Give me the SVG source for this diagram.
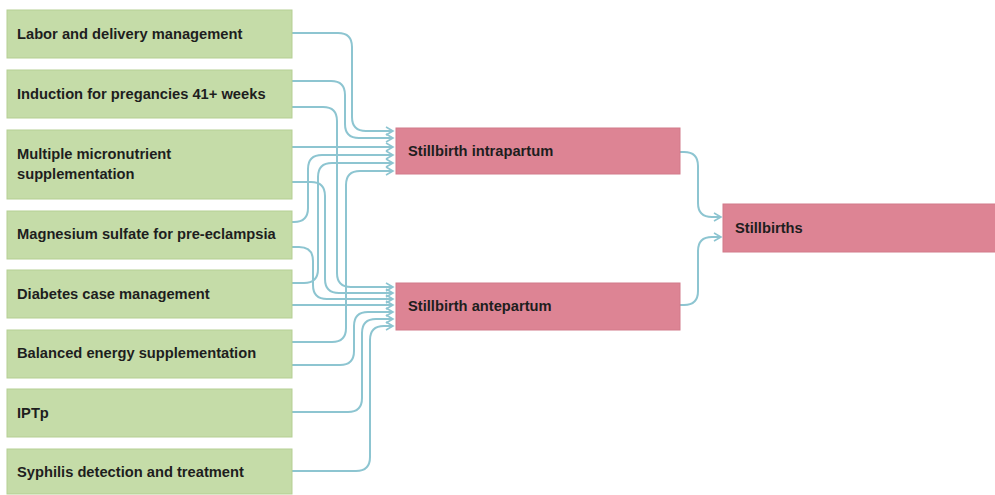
<svg xmlns="http://www.w3.org/2000/svg" width="995" height="495" viewBox="0 0 995 495">
<defs>
<style>
.src rect{fill:#c5dca8;stroke:#b5cf93;stroke-width:1}
.tgt rect{fill:#dd8494;stroke:#d27a8a;stroke-width:1}
text{font-family:"Liberation Sans","Noto Sans",Arial,sans-serif;font-weight:bold;font-size:14.7px;fill:#1e1e1e}
.edges path{fill:none;stroke:#8dc5d1;stroke-width:2;marker-end:url(#arr)}
</style>
<marker id="arr" markerUnits="userSpaceOnUse" markerWidth="10" markerHeight="10" refX="8" refY="5" orient="auto">
<path d="M1,1 L8,5 L1,9" fill="none" stroke="#8dc5d1" stroke-width="1.6"/>
</marker>
</defs>
<rect width="995" height="495" fill="#ffffff"/>
<g class="edges">
<path d="M292,33 H338 Q352,33 352,47 V117 Q352,131 366,131 H393"/>
<path d="M292,81 H331 Q345,81 345,95 V124 Q345,138 359,138 H393"/>
<path d="M292,147 H393"/>
<path d="M292,222 H294 Q308,222 308,208 V169 Q308,155 322,155 H393"/>
<path d="M292,283 H304 Q318,283 318,269 V177 Q318,163 332,163 H393"/>
<path d="M292,342 H332 Q346,342 346,328 V185 Q346,171 360,171 H393"/>
<path d="M292,107 H323 Q337,107 337,121 V273 Q337,287 351,287 H393"/>
<path d="M292,182 H311 Q325,182 325,196 V279 Q325,293 339,293 H393"/>
<path d="M292,247 H299 Q313,247 313,261 V285 Q313,299 327,299 H393"/>
<path d="M292,305 H393"/>
<path d="M292,365 H340 Q354,365 354,351 V326 Q354,312 368,312 H393"/>
<path d="M292,412 H348 Q362,412 362,398 V333 Q362,319 376,319 H393"/>
<path d="M292,471 H356 Q370,471 370,457 V340 Q370,326 384,326 H393"/>
<path d="M680,152 H684 Q698,152 698,166 V203 Q698,217 712,217 H721"/>
<path d="M680,305 H684 Q698,305 698,291 V251 Q698,237 712,237 H721"/>
</g>
<g id="n1" class="src"><rect x="7" y="10" width="285" height="48"/><text x="17" y="39">Labor and delivery management</text></g>
<g id="n2" class="src"><rect x="7" y="70" width="285" height="48"/><text x="17" y="99">Induction for pregancies 41+ weeks</text></g>
<g id="n3" class="src"><rect x="7" y="130" width="285" height="69"/><text x="17" y="159">Multiple micronutrient</text><text x="17" y="179">supplementation</text></g>
<g id="n4" class="src"><rect x="7" y="211" width="285" height="48"/><text x="17" y="239">Magnesium sulfate for pre-eclampsia</text></g>
<g id="n5" class="src"><rect x="7" y="270" width="285" height="48"/><text x="17" y="299">Diabetes case management</text></g>
<g id="n6" class="src"><rect x="7" y="330" width="285" height="48"/><text x="17" y="358">Balanced energy supplementation</text></g>
<g id="n7" class="src"><rect x="7" y="389" width="285" height="48"/><text x="17" y="418">IPTp</text></g>
<g id="n8" class="src"><rect x="7" y="449" width="285" height="45"/><text x="17" y="477">Syphilis detection and treatment</text></g>
<g id="intrapartum" class="tgt"><rect x="396" y="128" width="284" height="46"/><text x="408" y="156">Stillbirth intrapartum</text></g>
<g id="antepartum" class="tgt"><rect x="396" y="283" width="284" height="47"/><text x="408" y="311">Stillbirth antepartum</text></g>
<g id="stillbirths" class="tgt"><rect x="723" y="204" width="275" height="48"/><text x="735" y="233">Stillbirths</text></g>
</svg>
